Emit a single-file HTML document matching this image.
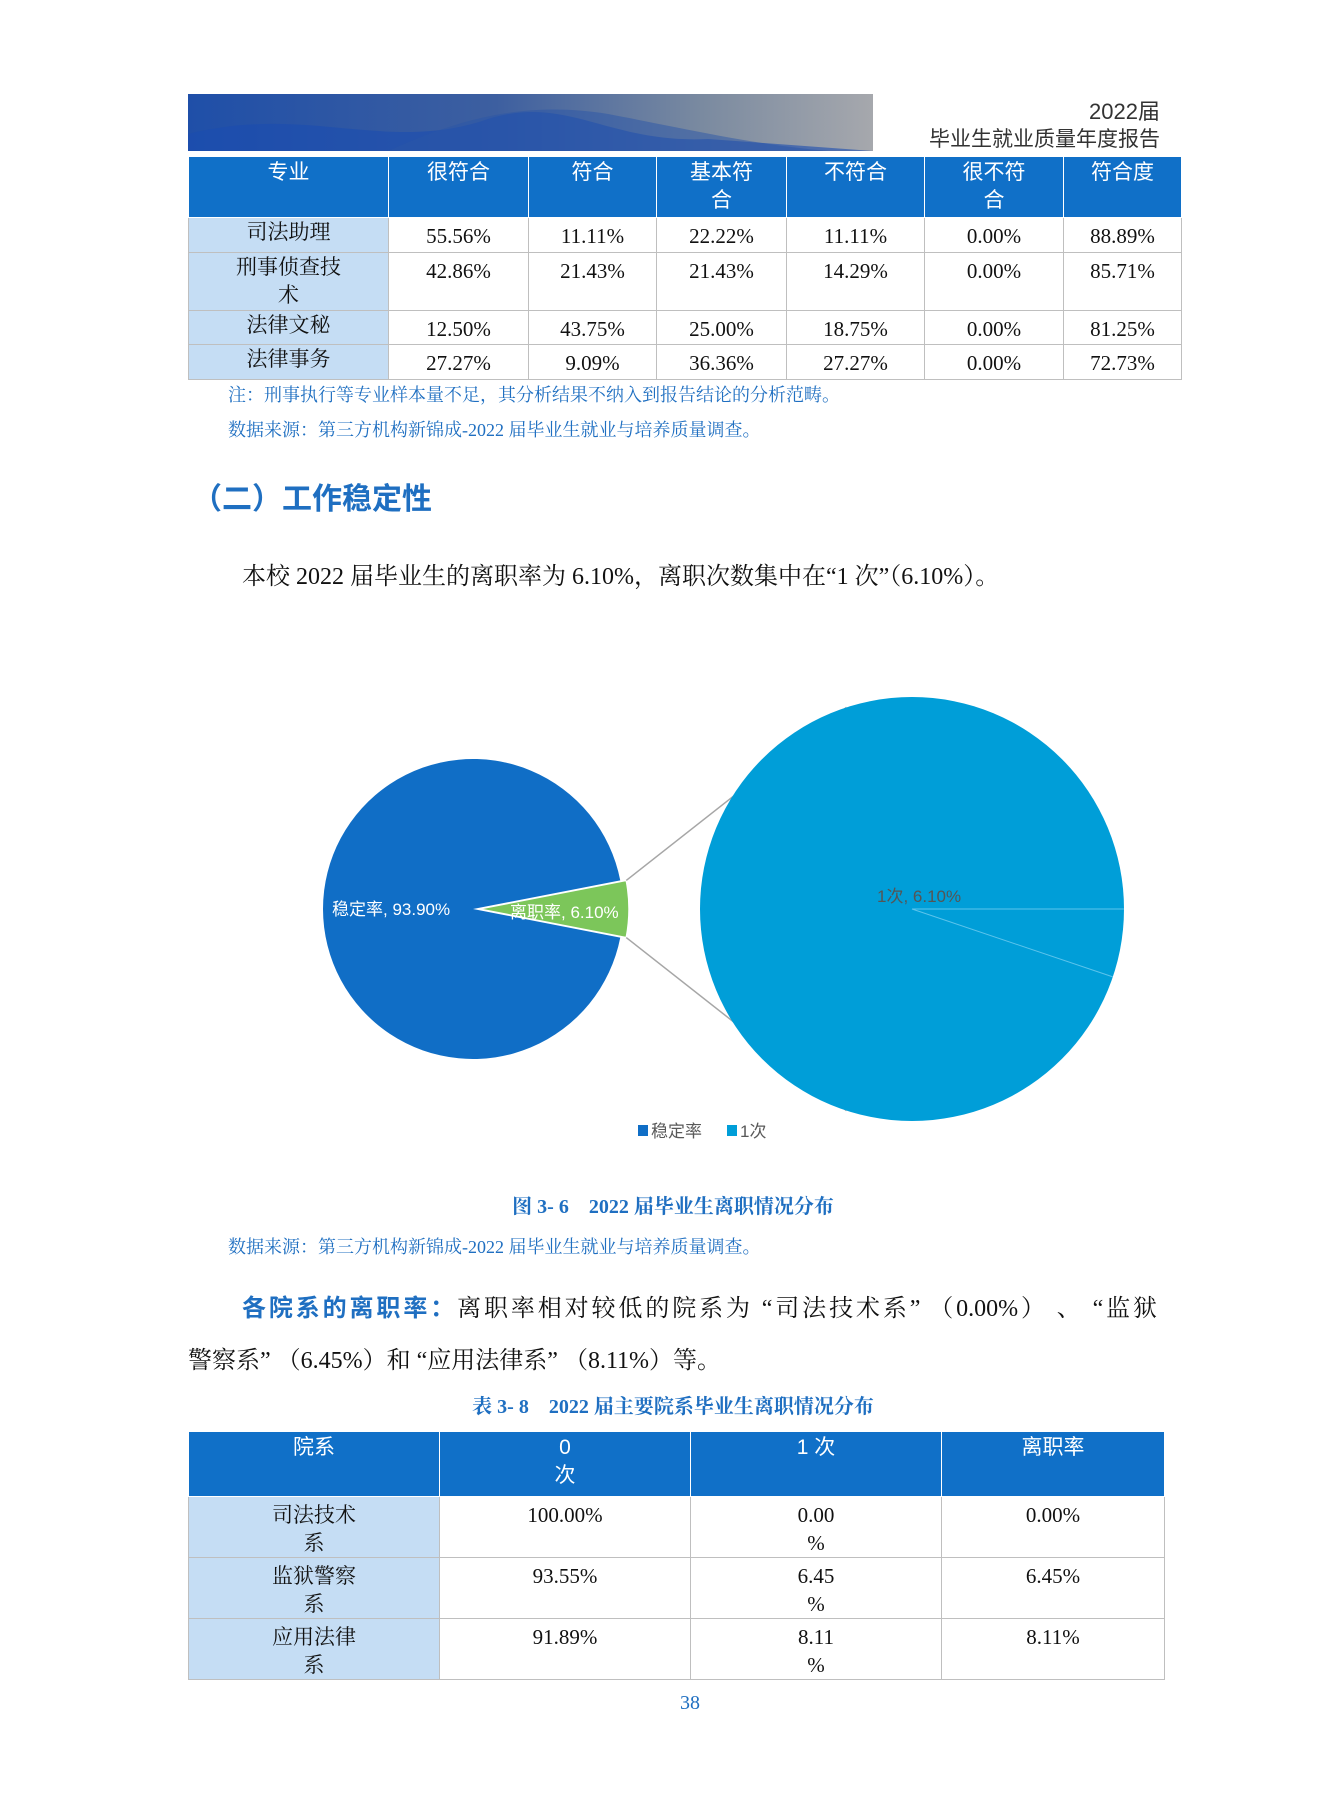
<!DOCTYPE html>
<html><head><meta charset="utf-8">
<style>
body{margin:0;width:1323px;height:1797px;background:#fff;position:relative;overflow:hidden;font-family:"Liberation Serif","Noto Serif CJK SC",serif;}
.a{position:absolute;white-space:nowrap;}
table{position:absolute;border-collapse:collapse;}
td{border:1px solid #bfbfbf;text-align:center;vertical-align:top;font-size:21px;padding:4px 2px 0;line-height:28px;color:#111;}
th{background:#1070c8;color:#fff;font-weight:normal;font-family:"Liberation Sans","Noto Sans CJK SC",sans-serif;font-size:21px;vertical-align:top;padding:2px;line-height:28px;border:1px solid #fff;border-top:none;}
td.f{background:#c5ddf4;font-family:"Liberation Serif","Noto Serif CJK SC",serif;}
.blue{color:#1f6fc1;}
</style></head><body>
<div class="a" style="left:188px;top:94px;width:685px;height:57px;background:linear-gradient(90deg,#1f4fa8 0%,#3d5fa0 45%,#7a8aa0 75%,#a6a8ad 100%);overflow:hidden">
<svg width="685" height="57"><path d="M0,40 C120,10 200,60 300,25 C380,0 420,50 520,45 L685,57 L0,57Z" fill="#1a4cb0" opacity="0.6"/><path d="M200,57 C260,30 330,5 420,20 C500,35 560,50 640,57Z" fill="#2a55a8" opacity="0.5"/></svg></div>
<div class="a" style="right:163px;top:94px;font-size:22px;color:#333;font-family:'Liberation Sans','Noto Sans CJK SC',sans-serif">2022届</div>
<div class="a" style="right:163px;top:123px;font-size:21px;color:#333;font-family:'Liberation Sans','Noto Sans CJK SC',sans-serif">毕业生就业质量年度报告</div>

<table style="left:188px;top:157px;width:994px">
<tr style="height:59px"><th style="width:195px">专业</th><th style="width:135px">很符合</th><th style="width:123px">符合</th><th style="width:125px">基本符<br>合</th><th style="width:133px">不符合</th><th style="width:134px">很不符<br>合</th><th>符合度</th></tr>
<tr style="height:35px"><td class="f" style="padding-top:0">司法助理</td><td>55.56%</td><td>11.11%</td><td>22.22%</td><td>11.11%</td><td>0.00%</td><td>88.89%</td></tr>
<tr style="height:58px"><td class="f" style="padding-top:0">刑事侦查技<br>术</td><td>42.86%</td><td>21.43%</td><td>21.43%</td><td>14.29%</td><td>0.00%</td><td>85.71%</td></tr>
<tr style="height:34px"><td class="f" style="padding-top:0">法律文秘</td><td>12.50%</td><td>43.75%</td><td>25.00%</td><td>18.75%</td><td>0.00%</td><td>81.25%</td></tr>
<tr style="height:35px"><td class="f" style="padding-top:0">法律事务</td><td>27.27%</td><td>9.09%</td><td>36.36%</td><td>27.27%</td><td>0.00%</td><td>72.73%</td></tr>
</table>
<div class="a blue" style="left:228px;top:381px;font-size:18px">注：刑事执行等专业样本量不足，其分析结果不纳入到报告结论的分析范畴。</div>
<div class="a blue" style="left:228px;top:416px;font-size:18px">数据来源：第三方机构新锦成-2022 届毕业生就业与培养质量调查。</div>
<div class="a" style="left:192px;top:474px;font-size:30px;font-weight:bold;color:#1f6fc1;font-family:'Liberation Sans','Noto Sans CJK SC',sans-serif">（二）工作稳定性</div>
<div class="a" style="left:242px;top:556px;font-size:24px;color:#111">本校 2022 届毕业生的离职率为 6.10%，离职次数集中在“1 次”（6.10%）。</div>

<svg class="a" style="left:0;top:640px" width="1323" height="520" id="chart"></svg>
<script>
const mainLabels=["稳定率","离职率"];
const mainValues=[93.90,6.10];
const subLabels=["1次"];
const subValues=[6.10];
const svg=document.getElementById('chart');
const NS='http://www.w3.org/2000/svg';
const oy=640;
function mk(t,a){const e=document.createElementNS(NS,t);for(const k in a)e.setAttribute(k,a[k]);svg.appendChild(e);return e;}
const cx=473,cy=909-oy,r=150;
const total=mainValues.reduce((a,b)=>a+b,0);
const half=mainValues[1]/total*Math.PI;
const p1=[cx+r*Math.cos(half),cy-r*Math.sin(half)],p2=[cx+r*Math.cos(half),cy+r*Math.sin(half)];
let e=mk('path',{d:`M${cx},${cy} L${p1[0]},${p1[1]} A${r},${r} 0 1 0 ${p2[0]},${p2[1]} Z`,fill:'#106ec6'});


const dx=6;
e=mk('path',{d:`M${cx+dx},${cy} L${p1[0]+dx},${p1[1]} A${r},${r} 0 0 1 ${p2[0]+dx},${p2[1]} Z`,fill:'#7cc65a',stroke:'#fff','stroke-width':1.5});


const rcx=912,rcy=909-oy,rr=212;
const q1=[rcx+rr*Math.cos(Math.PI*0.6),rcy-rr*Math.sin(Math.PI*0.6)],q2=[rcx+rr*Math.cos(Math.PI*0.6),rcy+rr*Math.sin(Math.PI*0.6)];
e=mk('line',{x1:p1[0]+dx,y1:p1[1],x2:q1[0],y2:q1[1],stroke:'#a6a6a6','stroke-width':1.5});


e=mk('line',{x1:p2[0]+dx,y1:p2[1],x2:q2[0],y2:q2[1],stroke:'#a6a6a6','stroke-width':1.5});


e=mk('circle',{cx:rcx,cy:rcy,r:rr,fill:'#009ed8'});


const sa=subValues[0]/100*Math.PI*2*0.85;
e=mk('line',{x1:rcx,y1:rcy,x2:rcx+rr,y2:rcy,stroke:'#5cc4ec','stroke-width':1});


e=mk('line',{x1:rcx,y1:rcy,x2:rcx+rr*Math.cos(sa),y2:rcy+rr*Math.sin(sa),stroke:'#5cc4ec','stroke-width':1});


function txt(x,y,s,fill,name,anchor){const t=mk('text',{x:x,y:y,fill:fill,'font-size':17,'text-anchor':anchor||'start','font-family':'Liberation Sans, Noto Sans CJK SC, sans-serif'});t.textContent=s;return t;}
txt(332,cy+6,mainLabels[0]+", "+mainValues[0].toFixed(2)+"%",'#fff','label-stable');
txt(510,cy+9,mainLabels[1]+", "+mainValues[1].toFixed(2)+"%",'#fff','label-leave');
txt(877,cy-7,subLabels[0]+", "+subValues[0].toFixed(2)+"%",'#555','label-once');
e=mk('rect',{x:638,y:1125-oy,width:10,height:11,fill:'#106ec6'});


txt(651,1137-oy,mainLabels[0],'#595959','legend-stable');
e=mk('rect',{x:727,y:1125-oy,width:10,height:11,fill:'#009ed8'});


txt(740,1137-oy,subLabels[0],'#595959','legend-once');
</script>

<div class="a blue" style="left:0;width:1346px;text-align:center;top:1190px;font-size:20px;font-weight:bold">图 3- 6　2022 届毕业生离职情况分布</div>
<div class="a blue" style="left:228px;top:1233px;font-size:18px">数据来源：第三方机构新锦成-2022 届毕业生就业与培养质量调查。</div>
<div class="a" style="left:242px;top:1284px;width:915px;font-size:24px;line-height:50px;color:#111;text-align:justify;text-align-last:justify;white-space:normal"><b class="blue" style="font-family:'Liberation Sans','Noto Sans CJK SC',sans-serif">各院系的离职率：</b>离职率相对较低的院系为 “司法技术系” （0.00%） 、 “监狱</div>
<div class="a" style="left:188px;top:1336px;font-size:24px;line-height:50px;color:#111">警察系” （6.45%）和 “应用法律系” （8.11%）等。</div>
<div class="a blue" style="left:0;width:1346px;text-align:center;top:1390px;font-size:20px;font-weight:bold">表 3- 8　2022 届主要院系毕业生离职情况分布</div>

<table style="left:188px;top:1432px;width:977px">
<tr style="height:64px"><th style="width:246px">院系</th><th style="width:246px">0<br>次</th><th style="width:246px">1 次</th><th>离职率</th></tr>
<tr style="height:60px"><td class="f">司法技术<br>系</td><td>100.00%</td><td>0.00<br>%</td><td>0.00%</td></tr>
<tr style="height:59px"><td class="f">监狱警察<br>系</td><td>93.55%</td><td>6.45<br>%</td><td>6.45%</td></tr>
<tr style="height:59px"><td class="f">应用法律<br>系</td><td>91.89%</td><td>8.11<br>%</td><td>8.11%</td></tr>
</table>
<div class="a blue" style="left:680px;top:1692px;font-size:20px">38</div>
</body></html>
